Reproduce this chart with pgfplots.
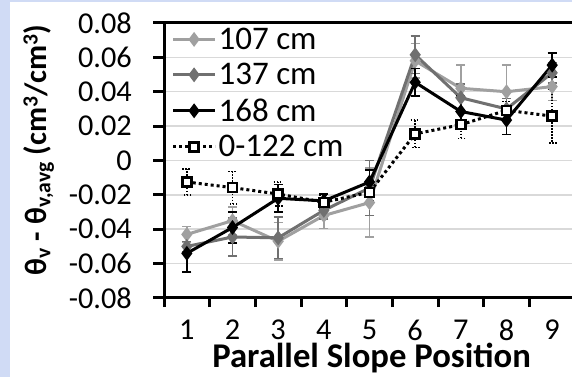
\documentclass[border=0pt]{standalone}
\usepackage{fontspec}
\setmainfont{Carlito}
\usepackage{pgfplots}
\pgfplotsset{compat=1.18}
\definecolor{bgblue}{RGB}{208,219,245}
\definecolor{g107}{RGB}{160,160,160}
\definecolor{g137}{RGB}{112,112,112}
\definecolor{gridc}{RGB}{217,217,217}
\begin{document}
\begin{tikzpicture}
\useasboundingbox (0,0) rectangle (572pt,377pt);
\fill[bgblue] (0,0) rectangle (572pt,377pt);
\fill[white] (10pt,0) rectangle (572pt,375pt);
\begin{axis}[
  at={(164pt,79pt)}, anchor=south west,
  scale only axis, width=411pt, height=275pt,
  xmin=0.5, xmax=9.5, ymin=-0.08, ymax=0.08,
  scaled y ticks=false,
  axis line style={line width=3pt},
  xtick={1,...,9}, xticklabels={1,2,3,4,5,6,7,8,9},
  major x tick style={draw=none},
  minor xtick={0.5,1.5,...,8.5},
  minor x tick style={line width=3pt, black},
  minor tick length=9pt,
  ytick={-0.08,-0.06,-0.04,-0.02,0,0.02,0.04,0.06,0.08},
  yticklabels={{-0.08},{-0.06},{-0.04},{-0.02},0,0.02,0.04,0.06,0.08},
  major y tick style={line width=3pt, black},
  major tick length=11pt,
  tick align=outside,
  tick pos=left,
  ymajorgrids, major grid style={gridc, line width=1.5pt},
  tick label style={font=\fontsize{30.3}{32}\selectfont, inner sep=0pt},
  xticklabel style={yshift=-10.5pt},
  yticklabel style={xshift=-21pt},
  xlabel={\textbf{Parallel Slope Position}},
  every axis x label/.style={at={(axis description cs:0.505,-0.252)}, anchor=base, font=\fontsize{34.7}{36}\selectfont},
  ylabel={\textbf{θ\textsubscript{v} - θ\textsubscript{v,avg} (cm\textsuperscript{3}/cm\textsuperscript{3})}},
  every axis y label/.style={at={(axis description cs:-0.305,0.538)}, rotate=90, anchor=center, font=\fontsize{30.9}{32}\selectfont},
  legend style={at={(axis description cs:0.018,0.99)}, anchor=north west, draw=none, fill=none,
    font=\fontsize{33}{35}\selectfont, row sep=8.5pt, inner sep=0pt, cells={anchor=west}},
  legend image code/.code={\draw[mark repeat=2, mark phase=2, #1] plot coordinates {(0pt,0pt) (21pt,0pt) (42pt,0pt)};},
  error bars/y dir=both, error bars/y explicit,
]
\addplot[g107, line width=3pt, mark=diamond*, mark size=5pt,
  error bars/.cd, error bar style={g107, line width=1.5pt, solid},
  error mark options={rotate=90, mark size=4.5pt, line width=1.5pt, g107}]
coordinates {
(1,-0.043) +- (0,0.0045)
(2,-0.035) +- (0,0.008)
(3,-0.047) +- (0,0.011)
(4,-0.032) +- (0,0.0075)
(5,-0.0245) +- (0,0.020)
(6,0.058) +- (0,0.010)
(7,0.042) +- (0,0.0135)
(8,0.040) +- (0,0.0155)
(9,0.043) +- (0,0.008)
};
\addlegendentry{107 cm}
\addplot[g137, line width=3pt, mark=diamond*, mark size=5pt,
  error bars/.cd, error bar style={g137, line width=1.5pt, solid},
  error mark options={rotate=90, mark size=4.5pt, line width=1.5pt, g137}]
coordinates {
(1,-0.050) +- (0,0.003)
(2,-0.0445) +- (0,0.011)
(3,-0.045) +- (0,0.012)
(4,-0.029) +- (0,0.005)
(5,-0.016) +- (0,0.016)
(6,0.0615) +- (0,0.011)
(7,0.0365) +- (0,0.008)
(8,0.030) +- (0,0.006)
(9,0.051) +- (0,0.006)
};
\addlegendentry{137 cm}
\addplot[black, line width=3pt, mark=diamond*, mark size=5pt,
  error bars/.cd, error bar style={black, line width=1.5pt, solid},
  error mark options={rotate=90, mark size=4.5pt, line width=1.5pt, black}]
coordinates {
(1,-0.054) +- (0,0.011)
(2,-0.039) +- (0,0.009)
(3,-0.022) +- (0,0.008)
(4,-0.0235) +- (0,0.004)
(5,-0.0125) +- (0,0.007)
(6,0.0455) +- (0,0.008)
(7,0.0285) +- (0,0.009)
(8,0.0235) +- (0,0.0085)
(9,0.0555) +- (0,0.007)
};
\addlegendentry{168 cm}
\addplot[black, line width=3pt, dash pattern=on 3pt off 3pt, mark=square*, mark size=4.5pt,
  mark options={solid, fill=white, draw=black, line width=2.5pt},
  error bars/.cd, error bar style={black, line width=1.5pt, dash pattern=on 1.5pt off 1.5pt},
  error mark options={rotate=90, mark size=4.5pt, line width=1.5pt, black, dash pattern=on 1.5pt off 1.5pt}]
coordinates {
(1,-0.0125) +- (0,0.0075)
(2,-0.0158) +- (0,0.0095)
(3,-0.0195) +- (0,0.007)
(4,-0.0243) +- (0,0.004)
(5,-0.0185) +- (0,0.005)
(6,0.0155) +- (0,0.008)
(7,0.0208) +- (0,0.008)
(8,0.0292) +- (0,0.005)
(9,0.0258) +- (0,0.0155)
};
\addlegendentry{0-122 cm}
\end{axis}
\end{tikzpicture}
\end{document}
